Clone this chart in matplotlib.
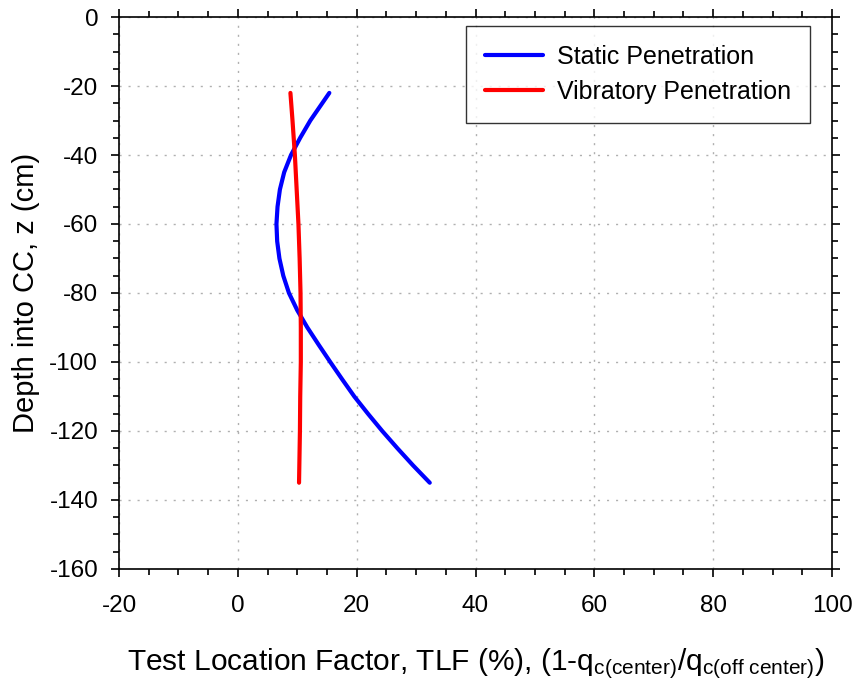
import matplotlib
matplotlib.use("Agg")
import matplotlib.pyplot as plt
from matplotlib.ticker import MultipleLocator

plt.rcParams['font.family'] = ['Liberation Sans', 'DejaVu Sans']
plt.rcParams['mathtext.fontset'] = 'custom'
plt.rcParams['mathtext.rm'] = 'Liberation Sans'
plt.rcParams['mathtext.it'] = 'Liberation Sans'
plt.rcParams['axes.unicode_minus'] = False

# Static penetration (depth z in cm, TLF in %)
static_z = [-22, -25, -30, -35, -40, -45, -50, -55, -60, -65, -70, -75, -80, -85,
            -90, -95, -100, -105, -110, -115, -120, -125, -130, -135]
static_tlf = [15.4, 14.2, 12.2, 10.5, 8.95, 7.8, 7.08, 6.68, 6.5, 6.62, 7.0, 7.65, 8.6, 10.0,
              11.7, 13.6, 15.55, 17.55, 19.6, 21.9, 24.3, 26.85, 29.5, 32.3]

# Vibratory penetration
vib_z = [-22, -30, -40, -50, -60, -70, -80, -90, -100, -110, -120, -135]
vib_tlf = [8.85, 9.2, 9.6, 9.9, 10.2, 10.4, 10.55, 10.6, 10.6, 10.5, 10.45, 10.3]

fig = plt.figure(figsize=(8.58, 6.86), dpi=100)
ax = fig.add_axes([0.1387, 0.1706, 0.9697 - 0.1387, 0.9752 - 0.1706])

ax.plot(static_tlf, static_z, color='#0000ff', lw=3, label='Static Penetration',
        solid_capstyle='round', solid_joinstyle='round')
ax.plot(vib_tlf, vib_z, color='#ff0000', lw=3, label='Vibratory Penetration',
        solid_capstyle='round', solid_joinstyle='round')

ax.set_xlim(-20, 100)
ax.set_ylim(-160, 0)
ax.xaxis.set_major_locator(MultipleLocator(20))
ax.xaxis.set_minor_locator(MultipleLocator(5))
ax.yaxis.set_major_locator(MultipleLocator(20))
ax.yaxis.set_minor_locator(MultipleLocator(5))

ax.tick_params(which='both', direction='out', top=True, right=True, width=1.2, colors='black')
ax.tick_params(which='major', length=6, labelsize=17.5)
ax.tick_params(axis='y', which='major', pad=9)
ax.tick_params(axis='x', which='major', pad=13)
ax.tick_params(which='minor', length=4)
for s in ax.spines.values():
    s.set_linewidth(1.2)

ax.grid(True, which='major', color='#b0b0b0', linestyle=(0, (1.5, 5)), lw=1)

ax.set_xlabel('Test Location Factor, TLF (%), (1-q$_{\\mathrm{c(center)}}$/q$_{\\mathrm{c(off\\ center)}}$)',
              fontsize=21.5, labelpad=21)
ax.set_ylabel('Depth into CC, z (cm)', fontsize=21, labelpad=7)

leg = ax.legend(loc='upper right', bbox_to_anchor=(0.969, 0.984), fontsize=18, frameon=True,
                fancybox=False, edgecolor='black', handlelength=2.35, borderpad=0.75,
                labelspacing=0.45, handletextpad=0.55, borderaxespad=0)
leg.get_frame().set_linewidth(1.0)

fig.savefig('out.png', dpi=100)
